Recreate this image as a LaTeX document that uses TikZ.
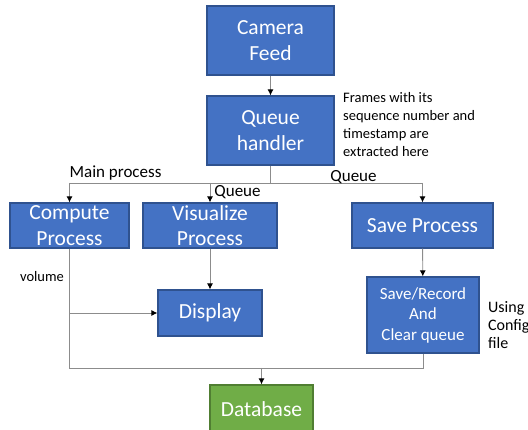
\documentclass[tikz,border=0pt]{standalone}
\usepackage{fontspec}
\setmainfont{Carlito}
\usetikzlibrary{arrows.meta, positioning, calc}
\definecolor{boxblue}{RGB}{68,114,196}
\definecolor{boxedge}{RGB}{47,82,143}
\definecolor{dbgreen}{RGB}{112,173,71}
\definecolor{dbedge}{RGB}{80,126,50}
\definecolor{linegray}{RGB}{140,140,140}
\tikzset{proc/.style={draw=boxedge, fill=boxblue, text=white, line width=1.2pt, align=center, inner sep=0pt, font=\fontsize{21.5}{25.5}\selectfont}}
\tikzset{store/.style={proc, draw=dbedge, fill=dbgreen}}
\tikzset{link/.style={draw=linegray, line width=0.9pt}}
\tikzset{next/.style={link, -{Latex[color=black, length=6pt, width=6pt]}}}
\tikzset{note/.style={align=left, inner sep=0pt}}
\tikzset{tag/.style={inner sep=0pt, font=\fontsize{17}{20}\selectfont}}

\begin{document}
\begin{tikzpicture}[x=1pt, y=-1pt]
        \useasboundingbox (0,0) rectangle (528,430);

        \node (cam) at (270.5,40.5) [proc, minimum width=127pt, minimum height=69pt] {Camera\\Feed};
        \node (qh) at (270.5,130.5) [proc, minimum width=127pt, minimum height=69pt] {Queue\\handler};
        \node (frames) at (343,92) [note, anchor=north west, font=\fontsize{14.5}{18}\selectfont] {Frames with its\\sequence number and\\timestamp are\\extracted here};
        \draw[next] (cam) -- (qh);

        \node (comp) at (69.5,225.5) [proc, minimum width=119pt, minimum height=45pt] {Compute\\Process};
        \node (vis) at (210,225.5) [proc, minimum width=134pt, minimum height=45pt] {Visualize\\Process};
        \node (save) at (422.5,225.5) [proc, minimum width=141pt, minimum height=45pt] {Save Process};

        % fan out from the queue handler
        \coordinate (split) at (270.5,183);
        \draw[link] (qh) -- (split);
        \draw[link] (split -| comp) -- (split -| save);
        \draw[next] (split -| comp) -- (comp);
        \draw[next] (split -| vis) -- (vis);
        \draw[next] (split -| save) -- (save);
        \node (mainp) at (115.5,173) [tag] {Main process};
        \node (q1) at (237.5,192) [tag] {Queue};
        \node (q2) at (353.5,177) [tag] {Queue};

        \node (disp) at (210,313) [proc, minimum width=104pt, minimum height=46pt] {Display};
        \node (rec) at (423,315) [proc, minimum width=112pt, minimum height=76pt, font=\fontsize{17}{20.5}\selectfont] {Save/Record\\And\\Clear queue};
        \node (using) at (488,325) [note, anchor=west, font=\fontsize{16}{18}\selectfont] {Using\\Config\\file};
        \node (vol) at (42,277) [inner sep=0pt, font=\fontsize{14.5}{16}\selectfont] {volume};

        \draw[next] (vis) -- (disp);
        \draw[next] (save) -- (rec);

        \node (db) at (261.5,409) [store, minimum width=103pt, minimum height=48pt] {Database};

        % merge into the database
        \coordinate (merge) at (261.5,368);
        \draw[link] (comp) -- (comp |- merge) -- (merge);
        \draw[next] (comp |- disp) -- (disp);
        \draw[link] (rec) -- (rec |- merge) -- (merge);
        \draw[next] (merge) -- (db);

\end{tikzpicture}
\end{document}
